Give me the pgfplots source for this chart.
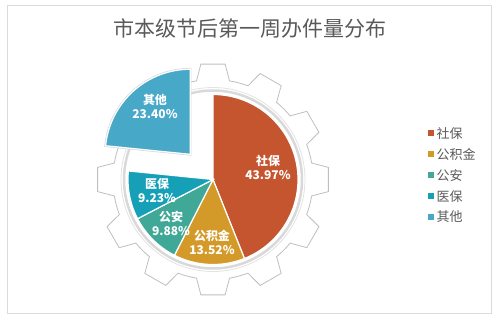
\documentclass[border=0pt]{standalone}
\usepackage{pgfplots}
\pgfplotsset{compat=1.18}
\usepackage{fontspec}
\setmainfont{Noto Sans CJK SC}
\definecolor{cA}{HTML}{C4552E}
\definecolor{cB}{HTML}{D49A29}
\definecolor{cC}{HTML}{40A896}
\definecolor{cD}{HTML}{16A0B8}
\definecolor{cE}{HTML}{48A8C8}
\definecolor{txt}{HTML}{595959}
\definecolor{gearc}{HTML}{BFBFBF}
\begin{document}
\begin{tikzpicture}
\useasboundingbox (0,0) rectangle (499pt,322pt);
% data (percent)
\def\vA{43.97}\def\vB{13.52}\def\vC{9.88}\def\vD{9.23}\def\vE{23.40}
\def\cx{213}\def\cy{142.5}\def\R{85}
\pgfmathsetmacro\aA{90}
\pgfmathsetmacro\aB{\aA-3.6*\vA}
\pgfmathsetmacro\aC{\aB-3.6*\vB}
\pgfmathsetmacro\aD{\aC-3.6*\vC}
\pgfmathsetmacro\aE{\aD-3.6*\vD}
\pgfmathsetmacro\aF{\aE-3.6*\vE}
\pgfmathsetmacro\mE{(\aE+\aF)/2}
\pgfmathsetmacro\ex{\cx+34*cos(\mE)}
\pgfmathsetmacro\ey{\cy+34*sin(\mE)}
\begin{axis}[at={(0,0)}, anchor=south west, scale only axis,
  width=499pt, height=322pt, xmin=0, xmax=499, ymin=0, ymax=322,
  hide axis, clip=false,
  legend style={at={(axis cs:427.5,197)}, anchor=north west, draw=none, fill=none,
    font=\fontsize{13}{13}\selectfont\color{txt}, row sep=4.5pt, inner sep=0pt,
    nodes={inner xsep=3pt}},
  legend cell align=left,
  legend image code/.code={\fill[#1, draw=none] (0pt,-3pt) rectangle (6pt,3pt);},
]
% frame
\draw[gray!28, line width=0.8pt] (axis cs:7,9) rectangle (axis cs:491,317);
% title
\node[font=\fontsize{21}{21}\selectfont, text=txt] at (axis cs:250,293) {市本级节后第一周办件量分布};
% gear
\begin{scope}[shift={(axis cs:\cx,\cy)}]
\draw[gearc, line width=0.8pt, fill=white] (80.5:100pt)
  \foreach \k in {0,...,11} {
    -- ({90+30*\k-9.5}:100pt) -- ({90+30*\k-6}:116pt) -- ({90+30*\k+6}:116pt)
    -- ({90+30*\k+9.5}:100pt) arc[start angle={90+30*\k+9.5}, end angle={90+30*\k+20.5}, radius=100pt]
  } -- cycle;
\draw[gray!30, line width=2.5pt] (0,0) circle[radius=89pt];
\draw[gray!22, line width=0.8pt] (0,0) circle[radius=92pt];
\end{scope}
% slices
\addplot[fill=cA, draw=white, line width=1.2pt, domain=\aB:\aA, samples=80, variable=\t]
  ({\cx+\R*cos(\t)},{\cy+\R*sin(\t)}) -- (axis cs:\cx,\cy) -- cycle;
\addlegendentry{社保}
\addplot[fill=cB, draw=white, line width=1.2pt, domain=\aC:\aB, samples=40, variable=\t]
  ({\cx+\R*cos(\t)},{\cy+\R*sin(\t)}) -- (axis cs:\cx,\cy) -- cycle;
\addlegendentry{公积金}
\addplot[fill=cC, draw=white, line width=1.2pt, domain=\aD:\aC, samples=30, variable=\t]
  ({\cx+\R*cos(\t)},{\cy+\R*sin(\t)}) -- (axis cs:\cx,\cy) -- cycle;
\addlegendentry{公安}
\addplot[fill=cD, draw=white, line width=1.2pt, domain=\aE:\aD, samples=30, variable=\t]
  ({\cx+\R*cos(\t)},{\cy+\R*sin(\t)}) -- (axis cs:\cx,\cy) -- cycle;
\addlegendentry{医保}
\addplot[forget plot, fill=cE, draw=gray!30, line width=2.6pt, domain=\aF:\aE, samples=60, variable=\t]
  ({\ex+\R*cos(\t)},{\ey+\R*sin(\t)}) -- (axis cs:\ex,\ey) -- cycle;
\addplot[fill=cE, draw=white, line width=1.2pt, domain=\aF:\aE, samples=60, variable=\t]
  ({\ex+\R*cos(\t)},{\ey+\R*sin(\t)}) -- (axis cs:\ex,\ey) -- cycle;
\addlegendentry{其他}
% labels
\tikzset{lab/.style={font=\bfseries\fontsize{12}{14}\selectfont, text=white, align=center, inner sep=0pt}}
\node[lab] at (axis cs:268,155) {社保\\43.97\%};
\node[lab] at (axis cs:212,80) {公积金\\13.52\%};
\node[lab] at (axis cs:171,98.5) {公安\\9.88\%};
\node[lab] at (axis cs:157,131.5) {医保\\9.23\%};
\node[lab] at (axis cs:155,216) {其他\\23.40\%};
\end{axis}
\end{tikzpicture}
\end{document}
